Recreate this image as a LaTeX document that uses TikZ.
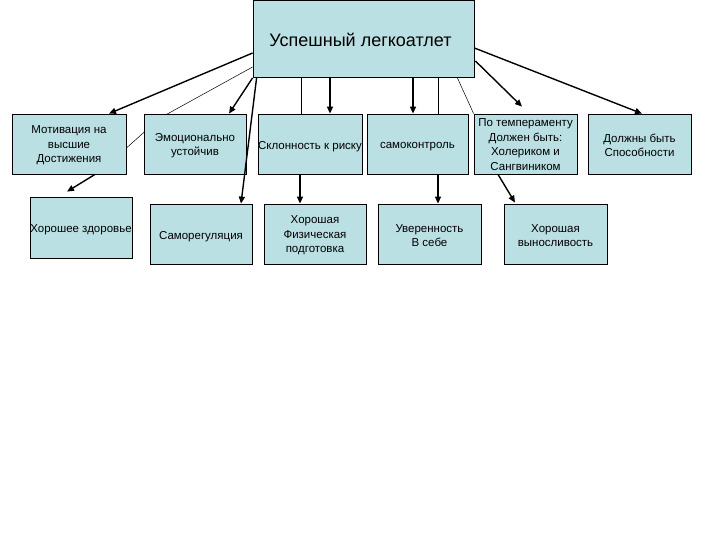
\documentclass[tikz,border=0pt]{standalone}
\usepackage{fontspec}
\setmainfont{Liberation Sans}
\usetikzlibrary{arrows.meta,calc,backgrounds}
\definecolor{boxfill}{RGB}{187,224,228}
\tikzset{
  box/.style={draw=black, line width=0.8pt, fill=boxfill, inner sep=0pt},
  txt/.style={inner sep=0pt, align=center, yshift=-1.5pt, font=\fontsize{11.5}{14.5}\selectfont},
  bigtxt/.style={inner sep=0pt, align=center, font=\fontsize{18}{21}\selectfont},
  arr/.style={line width=1.4pt, -{Triangle[length=7pt,width=6pt]}},
  thin/.style={line width=0.5pt}
}
\begin{document}
\begin{tikzpicture}[x=1pt,y=-1pt]
\useasboundingbox (0,0) rectangle (720,540);
% boxes
\node[box, minimum width=221pt, minimum height=77pt] (top) at (363.5,39) {};
\node[box, minimum width=114pt, minimum height=60pt] (mot) at (69,144) {};
\node[box, minimum width=102pt, minimum height=60pt] (emo) at (195,144) {};
\node[box, minimum width=104pt, minimum height=60pt] (skl) at (310,144) {};
\node[box, minimum width=101pt, minimum height=60pt] (sam) at (417.5,144) {};
\node[box, minimum width=103pt, minimum height=60pt] (tem) at (525.5,144) {};
\node[box, minimum width=103pt, minimum height=60pt] (dol) at (639.5,144) {};
\node[box, minimum width=102pt, minimum height=61pt] (zdr) at (81,227.5) {};
\node[box, minimum width=102pt, minimum height=60pt] (sar) at (201,234) {};
\node[box, minimum width=102pt, minimum height=60pt] (fiz) at (315,234) {};
\node[box, minimum width=103pt, minimum height=60pt] (uve) at (429.5,234) {};
\node[box, minimum width=103pt, minimum height=60pt] (vyn) at (555.5,234) {};
% texts
\node[bigtxt] (topt) at ($(top)+(-3,1)$) {Успешный легкоатлет};
\node[txt] (mott) at (mot) {Мотивация на\\высшие\\Достижения};
\node[txt] (emot) at (emo) {Эмоционально\\устойчив};
\node[txt] (sklt) at ($(skl)+(0,1)$) {Склонность к риску};
\node[txt] (samt) at ($(sam)+(0,1)$) {самоконтроль};
\node[txt] (temt) at ($(tem)+(0,-1)$) {По темпераменту\\Должен быть:\\Холериком и\\Сангвиником};
\node[txt] (dolt) at (dol) {Должны быть\\Способности};
\node[txt] (zdrt) at ($(zdr)+(0,1)$) {Хорошее здоровье};
\node[txt] (sart) at ($(sar)+(0,1)$) {Саморегуляция};
\node[txt] (fizt) at (fiz) {Хорошая\\Физическая\\подготовка};
\node[txt] (uvet) at (uve) {Уверенность\\В себе};
\node[txt] (vynt) at (vyn) {Хорошая\\выносливость};
% thin line behind the Emotional box
\begin{pgfonlayer}{background}
\draw[thin] ($(top.west)+(0,28)$) -- (160,118) -- ($(mot.east)+(0,4)$);
\end{pgfonlayer}
% connectors
\draw[arr] ($(top.west)+(0,14)$) -- ($(mot.north)+(40,0)$);
\draw[arr] (top.south west) -- ($(emo.north)+(34,0)$);
\draw[arr] ($(top.south west)+(4,0)$) -- ($(sar.north)+(40,0)$);
\draw[thin] (top.south -| skl.north) ++(-9,0) -- ($(skl.north)+(-9,0)$);
\draw[arr] ($(top.south -| skl.north)+(20,0)$) -- ($(skl.north)+(20,0)$);
\draw[arr] ($(top.south -| sam.north)+(-4.5,0)$) -- ($(sam.north)+(-4.5,0)$);
\draw[thin] ($(top.south -| sam.north)+(20.5,0)$) -- ($(sam.north)+(20.5,0)$);
\draw[thin] ($(top.south east)+(-17,0)$) -- (tem.north west);
\draw[arr] ($(top.east)+(1,22)$) -- ($(tem.north)+(-3.5,-7)$);
\draw[arr] ($(top.east)+(0,9)$) -- ($(dol.north)+(2.5,0)$);
\draw[arr] ($(mot.south)+(26,0)$) -- ($(zdr.north)+(-14,-5)$);
\draw[arr] ($(skl.south)+(-10,0)$) -- ($(fiz.north)+(-15,0)$);
\draw[arr] ($(sam.south)+(20.5,0)$) -- ($(uve.north)+(8.5,0)$);
\draw[arr] ($(tem.south)+(-27.5,0)$) -- ($(vyn.north)+(-40.5,-1)$);
\end{tikzpicture}
\end{document}
